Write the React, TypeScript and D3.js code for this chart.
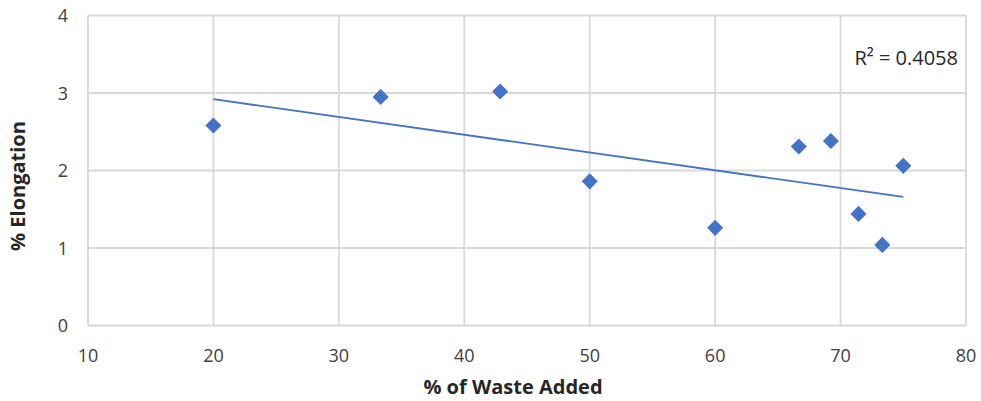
import React from "react";
import * as d3 from "d3";

const wasteAdded = [20, 33.33, 42.86, 50, 60, 66.67, 69.23, 71.43, 73.33, 75];
const elongation = [2.58, 2.95, 3.02, 1.86, 1.26, 2.31, 2.38, 1.44, 1.04, 2.06];
const xTicks = [10, 20, 30, 40, 50, 60, 70, 80];
const yTicks = [0, 1, 2, 3, 4];
const r2Label = "R² = 0.4058";
const xTitle = "% of Waste Added";
const yTitle = "% Elongation";

const W = 981;
const H = 401;
const FONT = "'Open Sans', sans-serif";
const BLUE = "#4472C4";

export default function App() {
  const x = d3.scaleLinear().domain([10, 80]).range([88, 966]);
  const y = d3.scaleLinear().domain([0, 4]).range([325.5, 15.5]);

  const mx = d3.mean(wasteAdded) as number;
  const my = d3.mean(elongation) as number;
  let sxy = 0;
  let sxx = 0;
  wasteAdded.forEach((v, i) => {
    sxy += (v - mx) * (elongation[i] - my);
    sxx += (v - mx) * (v - mx);
  });
  const slope = sxy / sxx;
  const intercept = my - slope * mx;
  const x0 = d3.min(wasteAdded) as number;
  const x1 = d3.max(wasteAdded) as number;
  const line = d3
    .line<number>()
    .x((d) => x(d))
    .y((d) => y(intercept + slope * d));

  const diamond = d3.symbol().type(d3.symbolDiamond2).size(165)();

  return (
    <svg
      width={W}
      height={H}
      style={{ position: "absolute", left: 0, top: 0, background: "#fff" }}
    >
      <rect x={0} y={0} width={W} height={H} fill="#fff" />
      {xTicks.map((t) => (
        <line
          key={"gx" + t}
          x1={x(t)}
          x2={x(t)}
          y1={y(0)}
          y2={y(4)}
          stroke="#d9d9d9"
          strokeWidth={1.8}
        />
      ))}
      {yTicks.map((t) => (
        <line
          key={"gy" + t}
          x1={x(10)}
          x2={x(80)}
          y1={y(t)}
          y2={y(t)}
          stroke="#d9d9d9"
          strokeWidth={1.8}
        />
      ))}
      {xTicks.map((t) => (
        <text
          key={"tx" + t}
          x={x(t)}
          y={362}
          textAnchor="middle"
          fontFamily={FONT}
          fontSize={18}
          fill="#404040"
        >
          {t}
        </text>
      ))}
      {yTicks.map((t) => (
        <text
          key={"ty" + t}
          x={68}
          y={y(t) + 6.5}
          textAnchor="end"
          fontFamily={FONT}
          fontSize={18}
          fill="#404040"
        >
          {t}
        </text>
      ))}
      <path
        d={line([x0, x1]) || ""}
        stroke={BLUE}
        strokeWidth={1.8}
        fill="none"
      />
      {wasteAdded.map((v, i) => (
        <path
          key={"p" + i}
          d={diamond || ""}
          transform={`translate(${x(v)},${y(elongation[i])})`}
          fill={BLUE}
        />
      ))}
      <text
        x={958}
        y={65}
        textAnchor="end"
        fontFamily={FONT}
        fontSize={20}
        fill="#262626"
      >
        {r2Label}
      </text>
      <text
        x={513}
        y={394}
        textAnchor="middle"
        fontFamily={FONT}
        fontSize={20}
        fontWeight="bold"
        fill="#262626"
      >
        {xTitle}
      </text>
      <text
        transform={`translate(25,${186}) rotate(-90)`}
        textAnchor="middle"
        fontFamily={FONT}
        fontSize={20}
        fontWeight="bold"
        fill="#262626"
      >
        {yTitle}
      </text>
    </svg>
  );
}
